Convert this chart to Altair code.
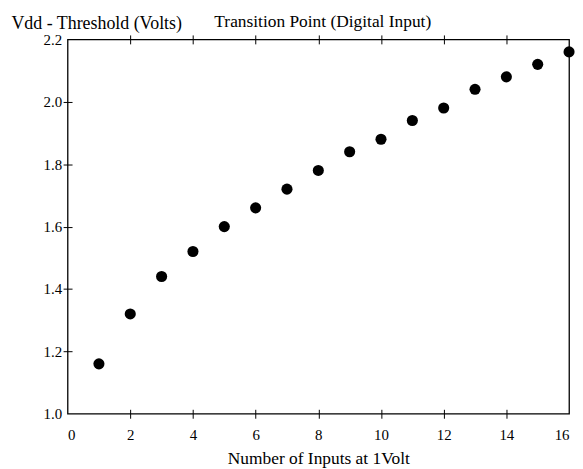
import altair as alt
import pandas as pd

inputs = list(range(1, 17))
vdd_minus_threshold = [1.16, 1.32, 1.44, 1.52, 1.60, 1.66, 1.72, 1.78,
                       1.84, 1.88, 1.94, 1.98, 2.04, 2.08, 2.12, 2.16]
x_ticks = [0, 2, 4, 6, 8, 10, 12, 14, 16]
x_inner_ticks = [2, 4, 6, 8, 10, 12, 14]
y_ticks = [1.0, 1.2, 1.4, 1.6, 1.8, 2.0, 2.2]
y_inner_ticks = [1.2, 1.4, 1.6, 1.8, 2.0]

df = pd.DataFrame({"n": inputs, "v": vdd_minus_threshold})

FONT = "Liberation Serif"
W, H = 505, 377

x_scale = alt.Scale(domain=[0, 16], nice=False, zero=False)
y_scale = alt.Scale(domain=[1.0, 2.2], nice=False, zero=False)

points = alt.Chart(df).mark_circle(size=125, color="black", opacity=1).encode(
    x=alt.X("n:Q", scale=x_scale,
            axis=alt.Axis(values=x_inner_ticks, orient="bottom", labels=False,
                          domain=False, grid=False, ticks=True, tickSize=9,
                          offset=-4.5, tickColor="black", tickWidth=1,
                          title=None)),
    y=alt.Y("v:Q", scale=y_scale,
            axis=alt.Axis(values=y_inner_ticks, orient="left", labels=False,
                          domain=False, grid=False, ticks=True, tickSize=9,
                          offset=-4.5, tickColor="black", tickWidth=1,
                          title=None)),
)

label_layer = alt.Chart(df).mark_circle(opacity=0).encode(
    x=alt.X("n:Q", scale=x_scale,
            axis=alt.Axis(values=x_ticks, orient="bottom", domain=False,
                          ticks=False, grid=False, labelPadding=14,
                          labelFont=FONT, labelFontSize=15, labelColor="black",
                          title="Number of Inputs at 1Volt", titleFont=FONT,
                          titleFontSize=17.5, titleFontWeight="normal",
                          titleColor="black", titleBaseline="alphabetic",
                          titleAlign="center", titleX=W / 2, titleY=50)),
    y=alt.Y("v:Q", scale=y_scale,
            axis=alt.Axis(values=y_ticks, orient="left", domain=False,
                          ticks=False, grid=False, labelPadding=6,
                          format=".1f",
                          labelFont=FONT, labelFontSize=15, labelColor="black",
                          title="Vdd - Threshold (Volts)", titleFont=FONT,
                          titleFontSize=18, titleFontWeight="normal",
                          titleColor="black", titleAngle=0, titleAlign="left",
                          titleBaseline="alphabetic", titleX=-57, titleY=-11)),
)

top_ticks = alt.Chart(df).mark_circle(opacity=0).encode(
    x=alt.X("n:Q", scale=x_scale,
            axis=alt.Axis(values=x_inner_ticks, orient="top", labels=False,
                          domain=False, grid=False, tickSize=9, offset=-4.5,
                          tickColor="black",
                          title="Transition Point (Digital Input)",
                          titleFont=FONT, titleFontSize=17.5,
                          titleFontWeight="normal", titleColor="black",
                          titleBaseline="alphabetic", titleAlign="center",
                          titleX=W / 2 + 4, titleY=-17.5)),
)

chart = alt.layer(label_layer, top_ticks, points).resolve_axis(
    x="independent", y="independent"
).properties(
    width=W,
    height=H,
    background="white",
    autosize=alt.AutoSizeParams(type="none"),
    padding={"left": 60, "top": 30, "right": 6, "bottom": 54},
).configure_view(stroke="black", strokeWidth=1.3)

chart.save("out.html", embed_options={"renderer": "svg", "actions": False})
